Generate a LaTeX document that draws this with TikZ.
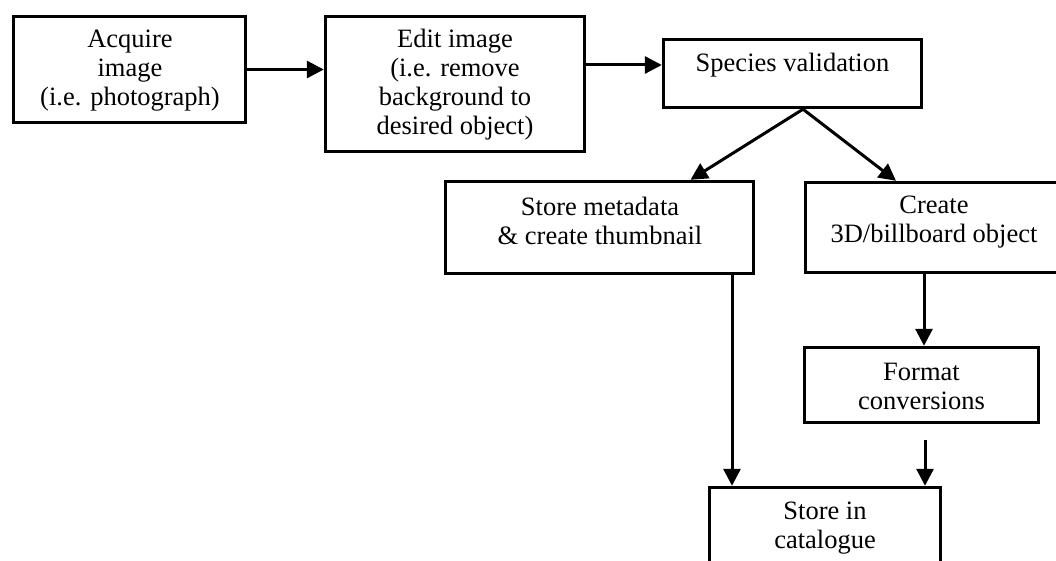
\documentclass[tikz,border=0pt]{standalone}
\usepackage{fontspec}
\setmainfont{Liberation Serif}
\usetikzlibrary{arrows.meta}
\begin{document}
\begin{tikzpicture}[x=1pt,y=-1pt,
  box/.style={draw=black,line width=3.4pt,fill=white,rectangle,inner sep=0pt},
  lbl/.style={align=center,inner sep=0pt,font=\fontsize{26.5}{29}\selectfont},
  arr/.style={line width=3pt,-{Triangle[length=17pt,width=17pt]}}]
\clip (0,0) rectangle (1056,561);
\fill[white] (0,0) rectangle (1056,561);

% process boxes
\node[box,minimum width=232pt,minimum height=106pt] (b1) at (129.5,69.5) {};
\node[box,minimum width=259pt,minimum height=135pt] (b2) at (455,84) {};
\node[box,minimum width=258pt,minimum height=68pt] (b3) at (792.5,73.5) {};
\node[box,minimum width=308pt,minimum height=92pt] (b4) at (599.5,227.5) {};
\node[box,minimum width=257pt,minimum height=90pt] (b5) at (934,227.5) {};
\node[box,minimum width=234pt,minimum height=75pt] (b6) at (921.5,385) {};
\node[box,minimum width=231pt,minimum height=95pt] (b7) at (825,535) {};

% box texts
\node[lbl] (t1) at (130,71) {Acquire\\image\\(i.e. photograph)};
\node[lbl] (t2) at (455,85) {Edit image\\(i.e. remove\\background to\\desired object)};
\node[lbl] (t3) at (792.5,65) {Species validation};
\node[lbl] (t4) at (600,221) {Store metadata\\\& create thumbnail};
\node[lbl] (t5) at (934,222) {Create\\3D/billboard object};
\node[lbl] (t6) at (921.5,386) {Format\\conversions};
\node[lbl] (t7) at (825,528) {Store in\\catalogue};

% connectors
\draw[arr] (b1.east) -- (b1.east -| b2.west);
\draw[arr] ([yshift=19pt]b2.east) coordinate (e2) -- (e2 -| b3.west);
\coordinate (split) at ([xshift=10.5pt]b3.south);
\draw[arr] (split) -- ([xshift=91pt]b4.north);
\draw[arr] (split) -- ([xshift=-38pt]b5.north);
\draw[arr] ([xshift=132.5pt]b4.south) coordinate (s4) -- (s4 |- b7.north);
\draw[arr] ([xshift=-10pt]b5.south) coordinate (s5) -- (s5 |- b6.north);
\draw[arr] ([xshift=3.5pt,yshift=-16pt]b6.south) coordinate (s6) -- (s6 |- b7.north);
\end{tikzpicture}
\end{document}
